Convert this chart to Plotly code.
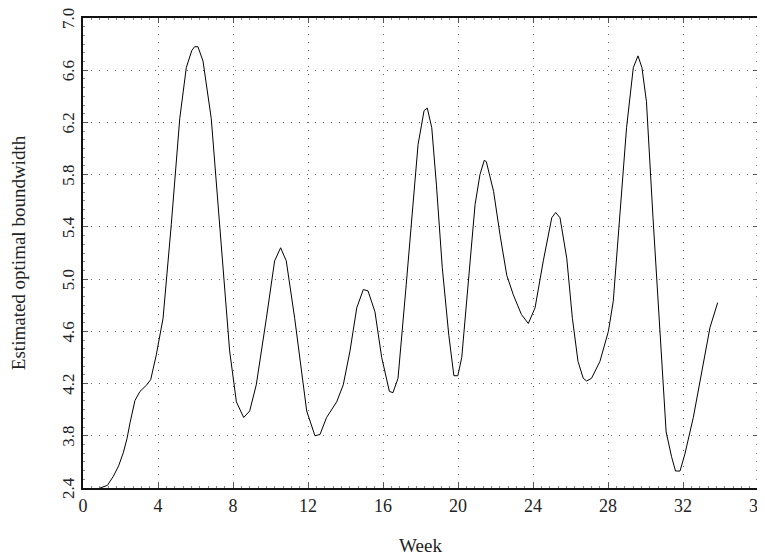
import plotly.graph_objects as go

weeks = [0.91, 1.3, 1.62, 1.9, 2.15, 2.35, 2.51, 2.77, 3.04, 3.4, 3.61, 3.91, 4.27,
         4.71, 5.16, 5.51, 5.8, 5.95, 6.13, 6.4, 6.84, 7.29, 7.82, 8.18, 8.57, 8.89,
         9.24, 9.78, 10.22, 10.54, 10.84, 11.29, 11.57, 11.93, 12.37, 12.64, 12.99,
         13.53, 13.88, 14.24, 14.6, 14.95, 15.2, 15.57, 15.93, 16.34, 16.53, 16.8,
         17.24, 17.6, 17.87, 18.19, 18.36, 18.6, 18.85, 19.16, 19.51, 19.78, 19.99,
         20.2, 20.55, 20.91, 21.17, 21.4, 21.51, 21.9, 22.24, 22.6, 22.95, 23.38,
         23.75, 24.11, 24.55, 25.0, 25.21, 25.44, 25.8, 26.1, 26.4, 26.68, 26.86,
         27.12, 27.57, 28.02, 28.28, 28.64, 28.99, 29.35, 29.6, 29.81, 30.05, 30.4,
         30.77, 31.1, 31.39, 31.6, 31.84, 32.1, 32.55, 33.02, 33.44, 33.85]
bandwidth = [3.40, 3.42, 3.49, 3.57, 3.67, 3.78, 3.90, 4.07, 4.14, 4.19, 4.23, 4.42, 4.70,
             5.42, 6.23, 6.62, 6.75, 6.78, 6.78, 6.67, 6.23, 5.42, 4.45, 4.06, 3.94, 3.99,
             4.19, 4.70, 5.14, 5.24, 5.14, 4.70, 4.37, 3.99, 3.80, 3.81, 3.94,
             4.06, 4.19, 4.45, 4.78, 4.92, 4.91, 4.75, 4.40, 4.14, 4.13, 4.24,
             4.96, 5.57, 6.03, 6.29, 6.31, 6.16, 5.72, 5.09, 4.57, 4.26, 4.26,
             4.40, 4.96, 5.57, 5.80, 5.91, 5.90, 5.67, 5.34, 5.03, 4.88, 4.73,
             4.66, 4.78, 5.14, 5.47, 5.51, 5.47, 5.16, 4.70, 4.37, 4.24, 4.22,
             4.24, 4.37, 4.60, 4.83, 5.47, 6.16, 6.62, 6.71, 6.62, 6.36, 5.47,
             4.57, 3.83, 3.64, 3.53, 3.53, 3.66, 3.94, 4.32, 4.63, 4.82]

x_ticks = [0, 4, 8, 12, 16, 20, 24, 28, 32, 36]
y_ticks = [3.4, 3.8, 4.2, 4.6, 5.0, 5.4, 5.8, 6.2, 6.6, 7.0]
y_ticktext = ["2.4", "3.8", "4.2", "4.6", "5.0", "5.4", "5.8", "6.2", "6.6", "7.0"]

font_family = "Liberation Serif"

fig = go.Figure()
fig.add_trace(go.Scatter(x=weeks, y=bandwidth, mode="lines",
                         line=dict(color="black", width=1), showlegend=False))

common = dict(
    showline=True, linecolor="#111111", linewidth=2, mirror="ticks",
    ticks="inside", ticklen=5, tickcolor="#555555", tickwidth=1,
    showgrid=True, gridcolor="#666666", gridwidth=1, griddash="1px,7px",
    zeroline=False, automargin=False, ticklabeloverflow="allow",
)

# the page body adds an 8px offset; figure is sized to fill the 765x559 window
fig.update_layout(
    width=757, height=551,
    margin=dict(l=75, r=7, t=10, b=71),
    paper_bgcolor="white", plot_bgcolor="white",
    font=dict(family=font_family, color="#222222"),
    xaxis=dict(range=[0, 36], tickvals=x_ticks, **common,
               tickfont=dict(family=font_family, size=18, color="#222222"),
               minor=dict(ticks="inside", ticklen=2, tickcolor="#888888",
                          dtick=4/9, showgrid=False),
               title=dict(text="Week", font=dict(family=font_family, size=19),
                          standoff=24)),
    yaxis=dict(range=[3.4, 7.0], tickvals=y_ticks, ticktext=y_ticktext,
               tickangle=-90, ticklabelshift=3, **common,
               tickfont=dict(family=font_family, size=17, color="#222222"),
               minor=dict(ticks="inside", ticklen=2, tickcolor="#888888",
                          dtick=0.4/6, showgrid=False),
               title=dict(text="Estimated optimal boundwidth",
                          font=dict(family=font_family, size=19), standoff=30)),
)

fig.write_html("out.html")
